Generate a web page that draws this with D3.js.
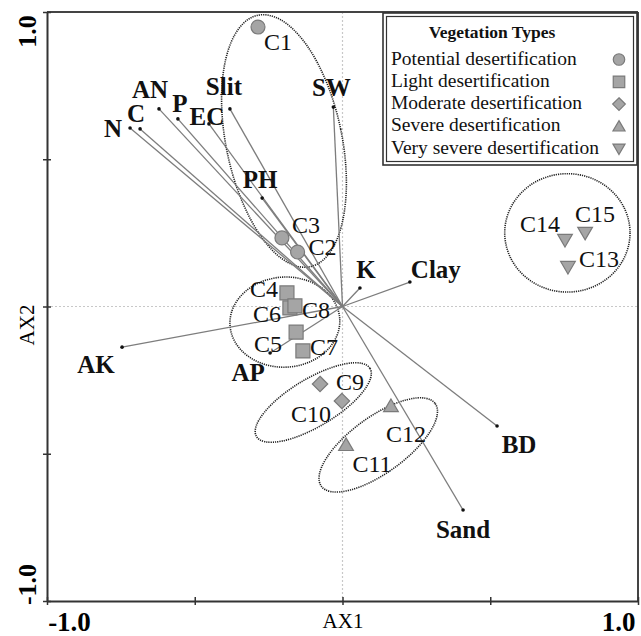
<!DOCTYPE html>
<html><head><meta charset="utf-8">
<script src="https://cdn.jsdelivr.net/npm/d3@7"></script>
<style>body{margin:0;background:#fff}svg{display:block}</style>
</head><body>
<svg id="chart" width="641" height="636"></svg>
<script>
// ---- data ----
const sampleNames = ["C1","C2","C3","C4","C5","C6","C7","C8","C9","C10","C11","C12","C13","C14","C15"];
const sampleX = [-0.286,-0.152,-0.205,-0.188,-0.157,-0.178,-0.134,-0.161,-0.076,-0.002,0.012,0.164,0.763,0.753,0.821];
const sampleY = [0.949,0.185,0.233,0.046,-0.087,-0.005,-0.151,0.002,-0.263,-0.321,-0.470,-0.338,0.134,0.226,0.250];
const sampleType = [0,0,0,1,1,1,1,1,2,2,3,3,4,4,4];

const typeNames = ["Potential desertification","Light desertification","Moderate desertification","Severe desertification","Very severe desertification"];

const varNames = ["N","C","AN","P","EC","Slit","PH","SW","K","Clay","AK","AP","BD","Sand"];
const varX = [-0.719,-0.685,-0.621,-0.557,-0.452,-0.381,-0.272,-0.031,0.059,0.228,-0.746,-0.245,0.523,0.408];
const varY = [0.606,0.603,0.671,0.637,0.620,0.671,0.368,0.677,0.063,0.083,-0.138,-0.158,-0.406,-0.691];

// group ellipses (centre, semi-axes in axis units, tilt in degrees)
const groupCx = [-0.198,-0.195,-0.099,0.121,0.761];
const groupCy = [0.562,-0.053,-0.326,-0.470,0.250];
const groupRx = [0.196,0.186,0.224,0.238,0.212];
const groupRy = [0.436,0.153,0.081,0.095,0.201];
const groupAngle = [-11.7,-3,-31,-36,0];

const xTicks = [-1,-0.5,0,0.5,1];
const yTicks = [-1,-0.5,0,0.5,1];
const xTickLabels = {"-1":"-1.0","0":"AX1","1":"1.0"};
const yTickLabels = {"-1":"-1.0","0":"AX2","1":"1.0"};

// ---- label placement (pixel offsets from the mark) ----
const varLabelOff = {N:[-17,9],C:[-4,-7],AN:[-9,-11],P:[2,-7],EC:[-2,1],Slit:[-6,-14],PH:[-2,-10],
  SW:[-2,-11],K:[6,-10],Clay:[26,-4],AK:[-26,26],AP:[-22,28],BD:[22,27],Sand:[0,28]};
const sampleLabelOff = {C1:[20,23],C2:[25,3],C3:[24,-5],C4:[-23,4],C5:[-28,20],C6:[-23,14],C7:[21,4],C8:[21,12],
  C9:[30,6],C10:[-31,21],C11:[26,27],C12:[15,36],C13:[31,0],C14:[-25,-8],C15:[10,-11]};

const svg = d3.select("#chart");
const x = d3.scaleLinear().domain([-1,1]).range([47,638]);
const y = d3.scaleLinear().domain([-1,1]).range([601,12]);
const serif = "'Liberation Serif','Times New Roman',serif";
const fillC = "#a5a5a5", strokeC = "#7a7a7a";

// reference dotted lines
svg.append("line").attr("x1",x(0)).attr("x2",x(0)).attr("y1",y(1)).attr("y2",y(-1))
  .attr("stroke","#c8c8c8").attr("stroke-dasharray","2,2").attr("stroke-width",1.2);
svg.append("line").attr("x1",x(-1)).attr("x2",x(1)).attr("y1",y(0)).attr("y2",y(0))
  .attr("stroke","#c8c8c8").attr("stroke-dasharray","2,2").attr("stroke-width",1.2);

// frame top/right
svg.append("line").attr("x1",x(-1)).attr("x2",x(1)).attr("y1",y(1)).attr("y2",y(1)).attr("stroke","#444").attr("stroke-width",2);
svg.append("line").attr("x1",x(1)).attr("x2",x(1)).attr("y1",y(1)).attr("y2",y(-1)).attr("stroke","#444").attr("stroke-width",2);

// axes
const xAxis = d3.axisBottom(x).tickValues(xTicks).tickSizeInner(4).tickSizeOuter(0).tickPadding(10)
  .tickFormat(d => xTickLabels[String(d)] || "");
const gx = svg.append("g").attr("transform",`translate(0,${y(-1)})`).call(xAxis);
gx.select(".domain").attr("stroke","#333").attr("stroke-width",2);
gx.selectAll(".tick line").attr("y1",-4).attr("y2",4).attr("stroke","#333").attr("stroke-width",1.5);
gx.selectAll(".tick text").attr("fill","#000").attr("font-family",serif)
  .attr("font-size",d => d===0 ? 21 : 27).attr("font-weight",d => d===0 ? "normal" : "bold")
  .attr("dy",d => d===0 ? "0.62em" : "0.6em")
  .attr("dx",d => d===-1 ? 22 : (d===1 ? -20 : 0));

const yAxis = d3.axisLeft(y).tickValues(yTicks).tickSizeInner(4).tickSizeOuter(0).tickFormat("");
const gy = svg.append("g").attr("transform",`translate(${x(-1)},0)`).call(yAxis);
gy.select(".domain").attr("stroke","#333").attr("stroke-width",2);
gy.selectAll(".tick line").attr("x1",-4).attr("x2",4).attr("stroke","#333").attr("stroke-width",1.5);
gy.selectAll(".tick").filter(d => yTickLabels[String(d)]).append("text")
  .attr("transform",d => `translate(-20,${d===1 ? 19 : (d===-1 ? -17 : 18)}) rotate(-90)`)
  .attr("text-anchor","middle").attr("dy","0.35em").attr("fill","#000").attr("font-family",serif)
  .attr("font-size",d => d===0 ? 21 : 26).attr("font-weight",d => d===0 ? "normal" : "bold")
  .text(d => yTickLabels[String(d)]);

// group ellipses
svg.append("g").selectAll("ellipse").data(groupCx).join("ellipse")
  .attr("transform",(d,i) => `translate(${x(groupCx[i])},${y(groupCy[i])}) rotate(${groupAngle[i]})`)
  .attr("rx",(d,i) => x(groupRx[i]) - x(0)).attr("ry",(d,i) => y(0) - y(groupRy[i]))
  .attr("fill","none").attr("stroke","#222").attr("stroke-width",1.6).attr("stroke-dasharray","1.2,1");

// variable vectors
const vg = svg.append("g");
varNames.forEach((n,i) => {
  vg.append("line").attr("x1",x(0)).attr("y1",y(0)).attr("x2",x(varX[i])).attr("y2",y(varY[i]))
    .attr("stroke","#7d7d7d").attr("stroke-width",1.3);
  vg.append("circle").attr("cx",x(varX[i])).attr("cy",y(varY[i])).attr("r",1.8).attr("fill","#111");
  const o = varLabelOff[n];
  vg.append("text").attr("x",x(varX[i])+o[0]).attr("y",y(varY[i])+o[1]).attr("text-anchor","middle")
    .attr("font-family",serif).attr("font-weight","bold").attr("font-size",25).attr("fill","#111").text(n);
});

// symbols
function symbolPath(t, s) {
  if (t===0) return d3.symbol(d3.symbolCircle, s*s*0.78)();
  if (t===1) return `M${-s/2},${-s/2}h${s}v${s}h${-s}Z`;
  if (t===2) { const h=s*0.55; return `M0,${-h}L${h},0L0,${h}L${-h},0Z`; }
  if (t===3) { const h=s*0.5; return `M0,${-h}L${h*1.05},${h*0.8}L${-h*1.05},${h*0.8}Z`; }
  const h=s*0.5; return `M0,${h}L${h*1.05},${-h*0.8}L${-h*1.05},${-h*0.8}Z`;
}
const sg = svg.append("g");
sampleNames.forEach((n,i) => {
  sg.append("path").attr("d",symbolPath(sampleType[i],14))
    .attr("transform",`translate(${x(sampleX[i])},${y(sampleY[i])})`)
    .attr("fill",fillC).attr("stroke",strokeC).attr("stroke-width",1.2);
  const o = sampleLabelOff[n];
  sg.append("text").attr("x",x(sampleX[i])+o[0]).attr("y",y(sampleY[i])+o[1]).attr("text-anchor","middle")
    .attr("font-family",serif).attr("font-size",24).attr("fill","#111").text(n);
});

// legend
const lg = svg.append("g");
lg.append("rect").attr("x",383).attr("y",13).attr("width",254).attr("height",152).attr("fill","#fff")
  .attr("stroke","#333").attr("stroke-width",1.6);
lg.append("rect").attr("x",386.5).attr("y",16.5).attr("width",247).attr("height",145).attr("fill","none")
  .attr("stroke","#333").attr("stroke-width",1.2);
lg.append("text").attr("x",492).attr("y",38).attr("text-anchor","middle").attr("font-family",serif)
  .attr("font-weight","bold").attr("font-size",17.5).attr("fill","#111").text("Vegetation Types");
typeNames.forEach((t,i) => {
  const yy = 64.5 + i*22.3;
  lg.append("text").attr("x",391).attr("y",yy).attr("font-family",serif).attr("font-size",19.5).attr("fill","#111").text(t);
  lg.append("path").attr("d",symbolPath(i,11.5)).attr("transform",`translate(619,${yy-5})`)
    .attr("fill",fillC).attr("stroke",strokeC).attr("stroke-width",1.2);
});
</script>
</body></html>
